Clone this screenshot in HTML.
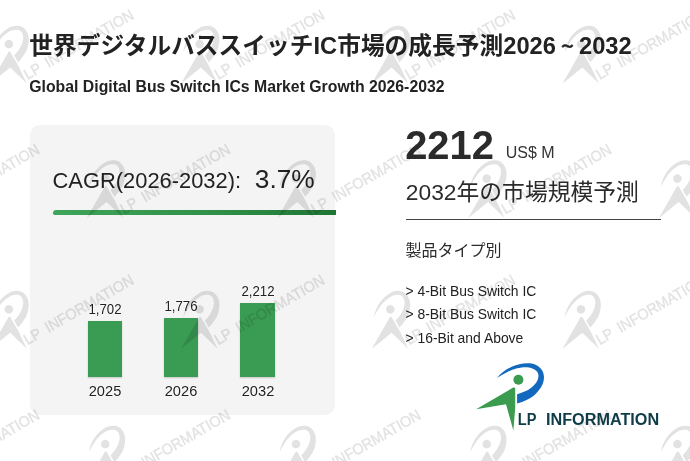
<!DOCTYPE html>
<html lang="ja">
<head>
<meta charset="utf-8">
<title>世界デジタルバススイッチIC市場の成長予測2026～2032</title>
<style>
html,body{margin:0;padding:0;}
body{width:690px;height:461px;position:relative;overflow:hidden;background:#fff;
 font-family:"Liberation Sans","Noto Sans CJK JP",sans-serif;color:#222;}
.abs{position:absolute;white-space:nowrap;line-height:1;}
#title{left:29.3px;top:35.3px;font-size:23.7px;font-weight:bold;color:#222;letter-spacing:0.03px;}
#title .ti{font-family:"Liberation Sans","NanumGothic",sans-serif;display:inline-block;width:22.9px;text-align:center;font-size:19px;position:relative;top:-1.5px;-webkit-text-stroke:0.5px #222;}
#sub{left:29.3px;top:79px;font-size:15.8px;font-weight:bold;color:#222;}
#panel{left:30px;top:125px;width:305px;height:289.6px;background:#f4f4f4;border-radius:10px;}
#cagr{left:52.5px;top:170px;font-size:21.9px;color:#222;}
#cagrv{left:254.8px;top:165.9px;font-size:26.3px;color:#222;}
#gline{left:53px;top:209.5px;width:283px;height:5.5px;background:linear-gradient(90deg,#3fa55a,#2f8f47 60%,#1f7434);border-radius:4px 0 0 2px;}
.bar{background:#3a9b53;width:34.3px;box-shadow:0 1px 1.5px rgba(0,0,0,0.18);}
.bl{font-size:14.4px;color:#222;text-shadow:0 0 1.5px #fff,0 0 1.5px #fff;text-align:center;width:60px;transform:scaleX(0.92);}
.yl{font-size:15.4px;color:#222;text-shadow:0 0 1.5px #fff,0 0 1.5px #fff;text-align:center;width:60px;transform:scaleX(0.95);}
#big{left:405.2px;top:125.9px;font-size:39.9px;font-weight:bold;color:#2b2b2b;}
#unit{left:505.8px;top:145px;font-size:16px;color:#333;}
#fc{left:405.8px;top:180.5px;font-size:22.8px;color:#2b2b2b;}
#hr{left:406px;top:218.5px;width:255px;height:1.3px;background:#444;}
#ptype{left:405.5px;top:242.6px;font-size:16px;color:#2b2b2b;}
.li{left:405.5px;font-size:13.9px;color:#222;}
#ov{position:absolute;left:0;top:0;width:690px;height:461px;pointer-events:none;}
</style>
</head>
<body>
<div class="abs" id="title">世界デジタルバススイッチIC市場の成長予測2026<span class="ti">～</span>2032</div>
<div class="abs" id="sub">Global Digital Bus Switch ICs Market Growth 2026-2032</div>
<div class="abs" id="panel"></div>
<div class="abs" id="cagr">CAGR(2026-2032):</div>
<div class="abs" id="cagrv">3.7%</div>
<div class="abs" id="gline"></div>

<div class="abs bar" style="left:87.7px;top:320.6px;height:56px;"></div>
<div class="abs bar" style="left:163.9px;top:317.8px;height:58.8px;"></div>
<div class="abs bar" style="left:240.3px;top:303.2px;height:73.4px;"></div>
<div class="abs bl" style="left:75px;top:302px;">1,702</div>
<div class="abs bl" style="left:151px;top:299.2px;">1,776</div>
<div class="abs bl" style="left:228px;top:284.4px;">2,212</div>
<div class="abs yl" style="left:74.5px;top:382.5px;">2025</div>
<div class="abs yl" style="left:150.5px;top:382.5px;">2026</div>
<div class="abs yl" style="left:227.5px;top:382.5px;">2032</div>

<div class="abs" id="big">2212</div>
<div class="abs" id="unit">US$ M</div>
<div class="abs" id="fc">2032年の市場規模予測</div>
<div class="abs" id="hr"></div>
<div class="abs" id="ptype">製品タイプ別</div>
<div class="abs li" style="top:285px;">&gt; 4-Bit Bus Switch IC</div>
<div class="abs li" style="top:308.2px;">&gt; 8-Bit Bus Switch IC</div>
<div class="abs li" style="top:331.9px;">&gt; 16-Bit and Above</div>

<svg id="ov" viewBox="0 0 690 461" font-family="'Liberation Sans',sans-serif">
 <defs>
  <path id="swoosh" d="M497 378.1C501 373 506 369.5 511.7 366.7C517 364.3 522 363.3 527 363.2C533 363.1 536.5 364.8 538.8 366.7C541.5 369 543.5 371.5 543.9 376C544.3 380 543 384 541 387.3C539 390.5 536.5 393.5 533.4 396C530 398.7 524 401.5 517.1 403.6L517.1 394.3C520 393.5 523 392.5 525.8 391.1C529 389.5 531.5 387.5 533.4 385.7C535.5 383.7 537 381.7 537.7 379.7C538.5 377.5 538.6 376 538.3 374.3C537.8 372 536.5 370.5 534.5 369.4C532.5 368.3 530 367.4 526.9 367.2C524 367 520.5 367.5 517.1 368.3C513.5 369.2 510.5 370.5 507.4 372.1C503.5 374 500 376 497 378.1Z"/>
  <path id="fig" d="M476.1 409.2L513.8 387.2L515.2 388.2L515.2 408L513.4 430.5L506 404.3Z"/>
  <circle id="head" cx="518.4" cy="379.7" r="5"/>
  <g id="wm" transform="rotate(-30) scale(0.85) translate(-513.4,-430.5)">
   <use href="#swoosh"/><use href="#fig"/><use href="#head"/>
   <text y="427.3" font-size="18" stroke="#000" stroke-width="0.55"><tspan x="516.3" textLength="20.5" lengthAdjust="spacingAndGlyphs">LP</tspan> <tspan x="544.8" textLength="117.5" lengthAdjust="spacingAndGlyphs">INFORMATION</tspan></text>
  </g>
 </defs>
 <!-- main logo -->
 <use href="#swoosh" fill="#1269bd"/>
 <use href="#fig" fill="#3b9b4f"/>
 <use href="#head" fill="#3b9b4f"/>
 <text y="425.3" font-size="17.4" font-weight="bold" fill="#0f3d47"><tspan x="517.8" textLength="18.4" lengthAdjust="spacingAndGlyphs">LP</tspan> <tspan x="546" textLength="113.2" lengthAdjust="spacingAndGlyphs">INFORMATION</tspan></text>
 <!-- watermarks -->
 <g fill="#000" opacity="0.115">
  <use href="#wm" x="26.8" y="83.6"/><use href="#wm" x="217.5" y="83.6"/><use href="#wm" x="408.2" y="83.6"/><use href="#wm" x="598.9" y="83.6"/>
  <use href="#wm" x="-67.5" y="218.1"/><use href="#wm" x="123.2" y="218.1"/><use href="#wm" x="313.9" y="218.1"/><use href="#wm" x="504.6" y="218.1"/><use href="#wm" x="695.3" y="218.1"/>
  <use href="#wm" x="26.8" y="348.8"/><use href="#wm" x="217.5" y="348.8"/><use href="#wm" x="408.2" y="348.8"/><use href="#wm" x="598.9" y="348.8"/>
  <use href="#wm" x="-67.5" y="483.6"/><use href="#wm" x="123.2" y="483.6"/><use href="#wm" x="313.9" y="483.6"/><use href="#wm" x="504.6" y="483.6"/><use href="#wm" x="695.3" y="483.6"/>
 </g>
</svg>
</body>
</html>
